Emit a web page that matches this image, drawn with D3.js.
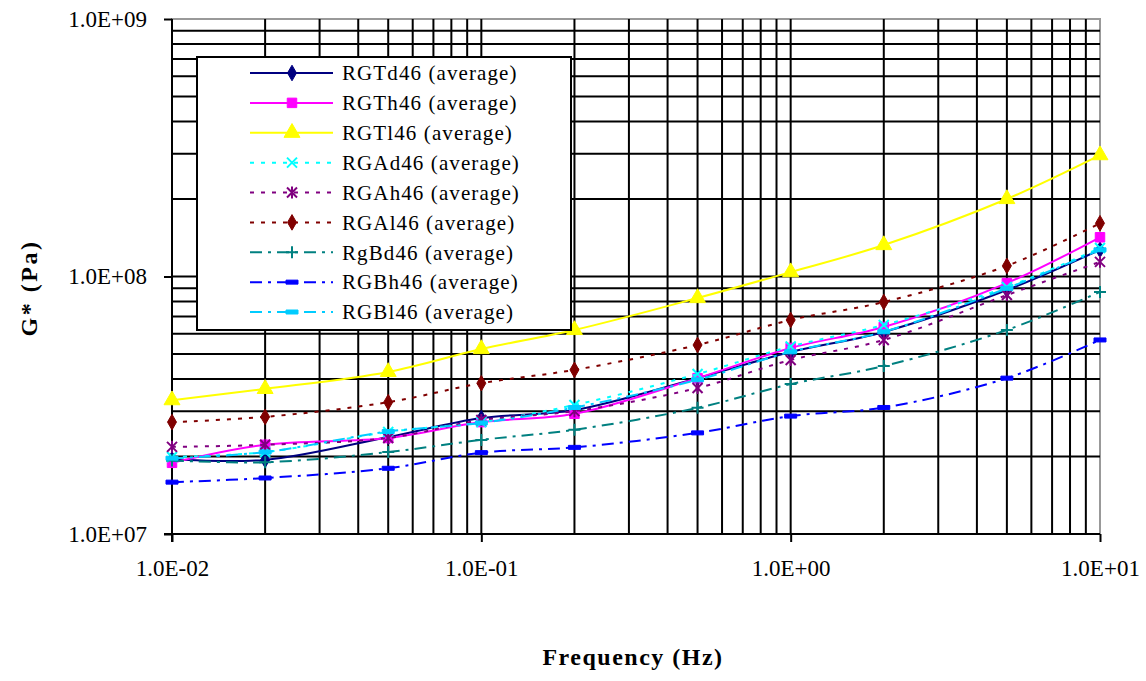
<!DOCTYPE html>
<html>
<head>
<meta charset="utf-8">
<script src="https://cdn.jsdelivr.net/npm/d3@7"></script>
<style>
  body { margin: 0; background: #fff; }
  svg { display: block; }
  text { font-family: "Liberation Serif", "Times New Roman", serif; fill: #000; }
  .tick-label { font-size: 23px; }
  .axis-title { font-size: 24px; font-weight: bold; letter-spacing: 1.5px; }
  .y-title { letter-spacing: 2.5px; }
  .legend-label { font-size: 21px; letter-spacing: 1.1px; }
</style>
</head>
<body>
<svg width="1146" height="681"></svg>
<script>
  // frequencies (Hz) of the measured points
  const freq = [0.01, 0.02, 0.05, 0.1, 0.2, 0.5, 1, 2, 5, 10];

  // G* (Pa) for each series
  const rgtd46 = [1.95e7, 1.94e7, 2.38e7, 2.82e7, 3.03e7, 4.03e7, 5.09e7, 6.09e7, 8.86e7, 1.27e8];
  const rgth46 = [1.89e7, 2.22e7, 2.36e7, 2.72e7, 2.93e7, 4.03e7, 5.28e7, 6.37e7, 9.43e7, 1.42e8];
  const rgtl46 = [3.31e7, 3.66e7, 4.26e7, 5.23e7, 6.2e7, 8.25e7, 1.04e8, 1.325e8, 2.0e8, 2.96e8];
  const rgad46 = [1.99e7, 2.08e7, 2.49e7, 2.72e7, 3.17e7, 4.18e7, 5.35e7, 6.48e7, 9.1e7, 1.29e8];
  const rgah46 = [2.18e7, 2.22e7, 2.36e7, 2.77e7, 3.0e7, 3.69e7, 4.74e7, 5.67e7, 8.47e7, 1.14e8];
  const rgal46 = [2.72e7, 2.85e7, 3.25e7, 3.85e7, 4.34e7, 5.42e7, 6.78e7, 7.96e7, 1.10e8, 1.61e8];
  const rgbd46 = [1.93e7, 1.90e7, 2.08e7, 2.32e7, 2.54e7, 3.09e7, 3.82e7, 4.49e7, 6.2e7, 8.71e7];
  const rgbh46 = [1.59e7, 1.65e7, 1.80e7, 2.07e7, 2.17e7, 2.47e7, 2.87e7, 3.10e7, 4.03e7, 5.67e7];
  const rgbl46 = [1.97e7, 2.08e7, 2.5e7, 2.7e7, 3.1e7, 3.97e7, 5.1e7, 6.1e7, 9.0e7, 1.27e8];

  const seriesNames = ['RGTd46 (average)', 'RGTh46 (average)', 'RGTl46 (average)',
    'RGAd46 (average)', 'RGAh46 (average)', 'RGAl46 (average)',
    'RgBd46 (average)', 'RGBh46 (average)', 'RGBl46 (average)'];
  const seriesValues = [rgtd46, rgth46, rgtl46, rgad46, rgah46, rgal46, rgbd46, rgbh46, rgbl46];

  const xTicks = [1e-2, 1e-1, 1e0, 1e1];
  const yTicks = [1e7, 1e8, 1e9];

  const xTitle = 'Frequency (Hz)';
  const yTitle = 'G* (Pa)';

  // styles per series
  const colors = ['#000080', '#ff00ff', '#ffff00', '#00ffff', '#800080', '#800000', '#008080', '#0000ff', '#00ccff'];
  const dashes = [null, null, null, '4,7', '4,7', '4,7', '12,6,3,6', '12,6,3,6', '12,6,3,6'];
  const markers = ['diamond', 'square', 'triangle', 'x', 'star', 'diamond', 'plus', 'bar', 'bar'];

  const svg = d3.select('svg');
  const margin = { top: 19, left: 172, right: 46, bottom: 147 };
  const width = +svg.attr('width');
  const height = +svg.attr('height');
  const innerW = width - margin.left - margin.right;
  const innerH = height - margin.top - margin.bottom;

  const x = d3.scaleLog().domain([0.01, 10]).range([0, innerW]);
  const y = d3.scaleLog().domain([1e7, 1e9]).range([innerH, 0]);

  const sci = v => {
    const e = Math.round(Math.log10(v));
    return '1.0E' + (e < 0 ? '-' : '+') + String(Math.abs(e)).padStart(2, '0');
  };

  const g = svg.append('g').attr('transform', `translate(${margin.left},${margin.top})`);

  // grid lines: every 1..9 of each decade
  const gridVals = (lo, hi) => {
    const out = [];
    for (let e = lo; e < hi; e++) for (let k = 1; k <= 9; k++) out.push(k * Math.pow(10, e));
    out.push(Math.pow(10, hi));
    return out;
  };

  g.append('rect').attr('width', innerW).attr('height', innerH)
    .attr('fill', 'none').attr('stroke', '#999').attr('stroke-width', 2);

  g.append('g').selectAll('line').data(gridVals(-2, 1).slice(1, -1)).join('line')
    .attr('x1', d => x(d)).attr('x2', d => x(d))
    .attr('y1', 0).attr('y2', innerH)
    .attr('stroke', '#000').attr('stroke-width', 2);

  g.append('g').selectAll('line').data(gridVals(7, 9).slice(1, -1)).join('line')
    .attr('y1', d => y(d)).attr('y2', d => y(d))
    .attr('x1', 0).attr('x2', innerW)
    .attr('stroke', '#000').attr('stroke-width', 2);

  // axes
  const yAxis = d3.axisLeft(y).tickValues(yTicks).tickFormat(sci).tickSize(8).tickPadding(17);
  const yAxisG = g.append('g').call(yAxis);
  yAxisG.select('.domain').attr('stroke', '#000').attr('stroke-width', 2).attr('d', `M0,0V${innerH + 8}`);
  yAxisG.selectAll('.tick line').attr('stroke-width', 2);
  yAxisG.selectAll('.tick text').attr('class', 'tick-label').attr('font-size', null).attr('font-family', null);

  const xAxis = d3.axisBottom(x).tickValues(xTicks).tickFormat(sci).tickSize(8).tickPadding(18);
  const xAxisG = g.append('g').attr('transform', `translate(0,${innerH})`).call(xAxis);
  xAxisG.select('.domain').attr('stroke', '#000').attr('stroke-width', 2).attr('d', `M-8,0H${innerW}`);
  xAxisG.selectAll('.tick line').attr('stroke-width', 2);
  xAxisG.selectAll('.tick text').attr('class', 'tick-label').attr('font-size', null).attr('font-family', null);

  svg.append('text').attr('class', 'axis-title')
    .attr('x', margin.left + innerW / 2 - 3).attr('y', 665)
    .attr('text-anchor', 'middle').text(xTitle);

  svg.append('text').attr('class', 'axis-title y-title')
    .attr('transform', 'translate(37,288) rotate(-90)')
    .attr('text-anchor', 'middle').text(yTitle);

  // markers
  const markerPath = (type) => {
    switch (type) {
      case 'diamond': return d3.symbol(d3.symbolDiamond, 70)();
      case 'square': return d3.symbol(d3.symbolSquare, 90)();
      case 'triangle': return d3.symbol(d3.symbolTriangle, 110)();
      case 'x': return 'M-5,-5L5,5M-5,5L5,-5';
      case 'star': return 'M-5,-5L5,5M-5,5L5,-5M0,-6V6';
      case 'plus': return 'M-6,0H6M0,-6V6';
      case 'bar': return 'M-6,-2H6V2H-6Z';
    }
  };
  const isStroke = t => t === 'x' || t === 'star' || t === 'plus';

  const line = d3.line()
    .x((d, i) => x(freq[i]))
    .y(d => y(d))
    .curve(d3.curveCatmullRom.alpha(0.5));

  // draw series
  seriesValues.forEach((vals, s) => {
    const sg = g.append('g');
    sg.append('path').datum(vals)
      .attr('d', line)
      .attr('fill', 'none')
      .attr('stroke', colors[s])
      .attr('stroke-width', 2)
      .attr('stroke-dasharray', dashes[s]);
    sg.selectAll('path.mk').data(vals).join('path')
      .attr('class', 'mk')
      .attr('transform', (d, i) => `translate(${x(freq[i])},${y(d)})`)
      .attr('d', markerPath(markers[s]))
      .attr('fill', isStroke(markers[s]) ? 'none' : colors[s])
      .attr('stroke', colors[s])
      .attr('stroke-width', isStroke(markers[s]) ? 2 : 1);
  });

  // legend
  const lg = svg.append('g').attr('transform', 'translate(197,57)');
  lg.append('rect').attr('width', 374).attr('height', 273)
    .attr('fill', '#fff').attr('stroke', '#000').attr('stroke-width', 2);

  const rowY = d3.scaleLinear().domain([0, 8]).range([16, 255]);
  seriesNames.forEach((name, s) => {
    const row = lg.append('g').attr('transform', `translate(0,${rowY(s)})`);
    row.append('line').attr('x1', 53).attr('x2', 136)
      .attr('stroke', colors[s]).attr('stroke-width', 2)
      .attr('stroke-dasharray', dashes[s]);
    row.append('path').attr('transform', 'translate(95,0)')
      .attr('d', markerPath(markers[s]))
      .attr('fill', isStroke(markers[s]) ? 'none' : colors[s])
      .attr('stroke', colors[s])
      .attr('stroke-width', isStroke(markers[s]) ? 2 : 1);
    row.append('text').attr('class', 'legend-label')
      .attr('x', 145).attr('dy', '0.35em').text(name);
  });
</script>
</body>
</html>
